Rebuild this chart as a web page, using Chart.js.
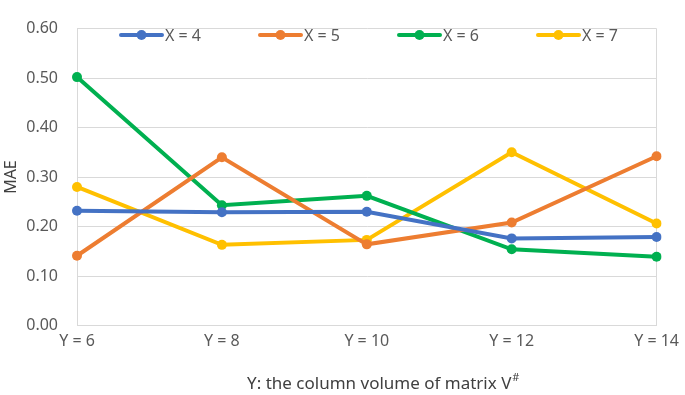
<!DOCTYPE html>
<html><head><meta charset="utf-8">
<script src="https://cdn.jsdelivr.net/npm/chart.js@4/dist/chart.umd.min.js"></script>
<style>html,body{margin:0;padding:0;background:#fff}#wrap{width:685px;height:395px}</style>
</head><body><div id="wrap"><canvas id="c" width="685" height="395"></canvas></div>
<script>
const categories = ['Y = 6', 'Y = 8', 'Y = 10', 'Y = 12', 'Y = 14'];
const seriesNames = ['X = 4', 'X = 5', 'X = 6', 'X = 7'];
const x4 = [0.232, 0.229, 0.230, 0.176, 0.179];
const x5 = [0.141, 0.340, 0.164, 0.208, 0.342];
const x6 = [0.502, 0.243, 0.262, 0.154, 0.139];
const x7 = [0.280, 0.163, 0.173, 0.350, 0.206];
const yTicks = [0, 0.1, 0.2, 0.3, 0.4, 0.5, 0.6];
const colors = ['#4472C4', '#ED7D31', '#00B050', '#FFC000'];
const xTitle = 'Y: the column volume of matrix V';
const xTitleSup = '#';
const yTitle = 'MAE';
const FONT = "'Noto Sans', sans-serif";

const allSeries = [x4, x5, x6, x7];
const datasets = allSeries.map((d, i) => ({
  label: seriesNames[i], data: d, borderColor: colors[i], backgroundColor: colors[i],
  borderWidth: 4, pointRadius: 5, pointHoverRadius: 5, pointBorderWidth: 0, tension: 0
}));

const overlay = {
  id: 'overlay',
  afterDraw(chart) {
    const ctx = chart.ctx, ca = chart.chartArea;
    ctx.save();
    // legend
    ctx.font = '16px ' + FONT;
    ctx.textBaseline = 'middle';
    const ly = 35;
    chart.data.datasets.forEach((ds, i) => {
      const x0 = 121 + i * 139;
      ctx.strokeStyle = ds.borderColor; ctx.lineWidth = 4; ctx.lineCap = 'round';
      ctx.beginPath(); ctx.moveTo(x0, ly); ctx.lineTo(x0 + 41, ly); ctx.stroke();
      ctx.fillStyle = ds.borderColor;
      ctx.beginPath(); ctx.arc(x0 + 20.5, ly, 5, 0, Math.PI * 2); ctx.fill();
      ctx.fillStyle = '#595959'; ctx.textAlign = 'left';
      ctx.fillText(ds.label, x0 + 44, ly + 1);
    });
    // x title with superscript
    ctx.fillStyle = '#404040';
    ctx.font = '17px ' + FONT;
    const w = ctx.measureText(xTitle).width;
    ctx.font = '11px ' + FONT;
    const ws = ctx.measureText(xTitleSup).width;
    const cx = (ca.left + ca.right) / 2 + 16;
    const sx = cx - (w + ws) / 2;
    ctx.font = '17px ' + FONT; ctx.textAlign = 'left'; ctx.textBaseline = 'alphabetic';
    ctx.fillText(xTitle, sx, 389);
    ctx.font = '11px ' + FONT;
    ctx.fillText(xTitleSup, sx + w + 1, 381);
    // y title
    ctx.font = '16px ' + FONT; ctx.textAlign = 'center'; ctx.textBaseline = 'middle';
    ctx.translate(11, (ca.top + ca.bottom) / 2);
    ctx.rotate(-Math.PI / 2);
    ctx.fillText(yTitle, 0, 0);
    ctx.restore();
  }
};

new Chart(document.getElementById('c'), {
  type: 'line',
  data: { labels: categories, datasets },
  options: {
    responsive: false, animation: false, devicePixelRatio: 1,
    layout: { padding: { top: 6, right: 25, bottom: 0, left: 0 } },
    plugins: { legend: { display: false }, tooltip: { enabled: false } },
    scales: {
      x: {
        offset: false,
        grid: { color: c => (c.index === 0 || c.index === categories.length - 1) ? '#D9D9D9' : 'rgba(0,0,0,0)', drawTicks: false, lineWidth: 1 },
        border: { color: '#D9D9D9', width: 1 },
        ticks: { color: '#595959', font: { family: FONT, size: 16 }, padding: 6, maxRotation: 0, autoSkip: false },
        afterFit: s => { s.height = 69.5; }
      },
      y: {
        min: 0, max: 0.6,
        afterBuildTicks: s => { s.ticks = yTicks.map(v => ({ value: v })); },
        grid: { color: '#D9D9D9', drawTicks: false, lineWidth: 1 },
        border: { color: '#D9D9D9', width: 1 },
        ticks: { color: '#595959', font: { family: FONT, size: 16 }, padding: 19, callback: v => Number(v).toFixed(2) },
        afterFit: s => { s.width = 77; }
      }
    }
  },
  plugins: [overlay]
});
</script></body></html>
